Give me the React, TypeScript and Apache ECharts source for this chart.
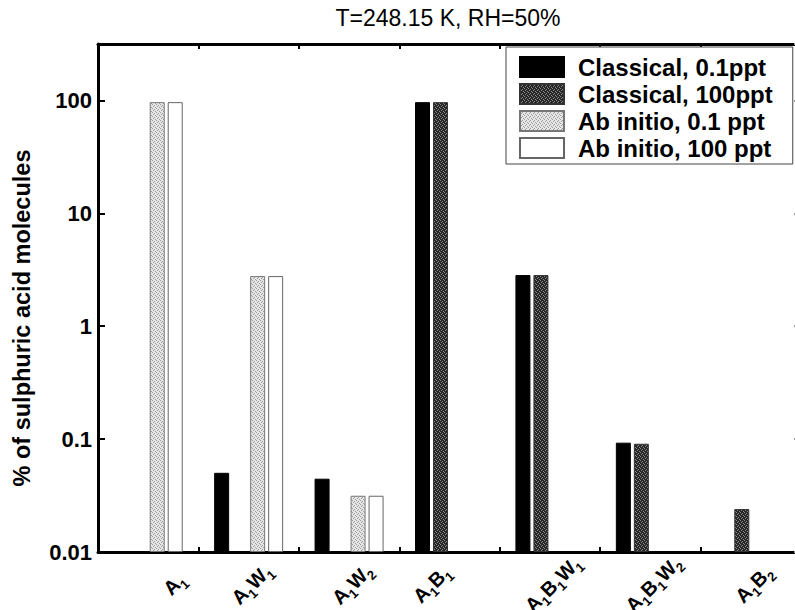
import React, { useEffect, useRef } from 'react';
import * as echarts from 'echarts';

// Cluster composition at T = 248.15 K, RH = 50 %
const categories = ['A1', 'A1W1', 'A1W2', 'A1B1', 'A1B1W1', 'A1B1W2', 'A1B2'];
const seriesNames = ['Classical, 0.1ppt', 'Classical, 100ppt', 'Ab initio, 0.1 ppt', 'Ab initio, 100 ppt'];

const classical01 = [null, 0.0503, 0.0446, 96.6, 2.84, 0.093, null];
const classical100 = [null, null, null, 96.6, 2.84, 0.091, 0.024];
const abInitio01 = [96.6, 2.78, 0.0315, null, null, null, null];
const abInitio100 = [96.6, 2.78, 0.0315, null, null, null, null];

const yMin = 0.01;
const yMax = 316.2;

const FONT = '"Liberation Sans", Arial, Helvetica, sans-serif';

// small repeating dot texture for the stippled bars
function stipple(base: string, dot: string, pts: number[][]) {
  const size = 4;
  const c = document.createElement('canvas');
  c.width = size;
  c.height = size;
  const g = c.getContext('2d')!;
  g.fillStyle = base;
  g.fillRect(0, 0, size, size);
  g.fillStyle = dot;
  pts.forEach(([x, y]) => g.fillRect(x, y, 1, 1));
  return { image: c, repeat: 'repeat', imageWidth: size, imageHeight: size } as any;
}

function logLabel(v: number) {
  const l = Math.log10(v);
  const e = Math.round(l);
  if (Math.abs(l - e) > 1e-6) return '';
  return String(Number(Math.pow(10, e).toPrecision(1)));
}

function subscripted(name: string) {
  return name.replace(/([A-Z])(\d)/g, '{a|$1}{s|$2}');
}

const labelRich = {
  a: { fontSize: 20, fontWeight: 'bold', fill: '#000', color: '#000', fontFamily: FONT, lineHeight: 28 },
  s: { fontSize: 13, fontWeight: 'bold', fill: '#000', color: '#000', fontFamily: FONT, lineHeight: 13, verticalAlign: 'bottom' },
};

export default function App() {
  const ref = useRef<HTMLDivElement>(null);

  useEffect(() => {
    if (!ref.current) return;
    const chart = echarts.init(ref.current, undefined, { renderer: 'svg' });

    const darkDots = stipple('#262626', '#8c8c8c', [[0, 0], [2, 1], [1, 2], [3, 3]]);
    const lightDots = stipple('#e6e6e6', '#9c9c9c', [[0, 0], [2, 1], [1, 2], [3, 3]]);

    const bar = (name: string, data: (number | null)[], color: any, borderColor: string) => ({
      name,
      type: 'bar',
      data,
      barWidth: 15,
      barGap: '20%',
      itemStyle: { color, borderColor, borderWidth: 1 },
    });

    chart.setOption({
      animation: false,
      backgroundColor: '#fff',
      textStyle: { fontFamily: FONT },
      title: {
        text: 'T=248.15 K, RH=50%',
        left: 448,
        top: 6,
        padding: 0,
        textAlign: 'center',
        textStyle: { fontSize: 23, fontWeight: 'normal', color: '#000', fontFamily: FONT },
      },
      grid: { left: 98, top: 44, width: 703, height: 508, outerBoundsMode: 'none', containLabel: false },
      legend: {
        orient: 'vertical',
        left: 506,
        top: 47,
        itemWidth: 44,
        itemHeight: 20,
        itemGap: 3,
        padding: [8, 20, 4, 13],
        backgroundColor: '#fff',
        borderColor: '#444',
        borderWidth: 1,
        icon: 'rect',
        align: 'left',
        data: seriesNames,
        textStyle: { fontSize: 24, fontWeight: 'bold', color: '#000', fontFamily: FONT, padding: [0, 0, 0, 9] },
        z: 10,
      },
      xAxis: [
        {
          type: 'category',
          data: categories,
          position: 'bottom',
          axisLine: { show: true, lineStyle: { color: '#000', width: 3 } },
          axisTick: { show: true, inside: true, length: 5, lineStyle: { color: '#000', width: 2 } },
          axisLabel: { show: false },
          splitLine: { show: false },
        },
        {
          type: 'category',
          data: categories,
          position: 'top',
          axisLine: { show: true, lineStyle: { color: '#000', width: 3 } },
          axisTick: { show: true, inside: true, length: 5, lineStyle: { color: '#000', width: 2 } },
          axisLabel: { show: false },
          splitLine: { show: false },
        },
      ],
      yAxis: [
        {
          type: 'log',
          logBase: 10,
          min: yMin,
          max: yMax,
          startValue: yMin,
          name: '% of sulphuric acid molecules',
          nameLocation: 'middle',
          nameGap: 64,
          nameTextStyle: { fontSize: 23.5, fontWeight: 'bold', color: '#000', fontFamily: FONT, padding: [0, 40, 0, 0] },
          axisLine: { show: true, lineStyle: { color: '#000', width: 3 } },
          axisTick: { show: true, inside: true, length: 7, lineStyle: { color: '#000', width: 2 } },
          axisLabel: {
            formatter: logLabel,
            fontSize: 22,
            fontWeight: 'bold',
            color: '#000',
            fontFamily: FONT,
            margin: 6,
            showMaxLabel: false,
          },
          splitLine: { show: false },
          minorTick: { show: false },
        },
        {
          type: 'log',
          logBase: 10,
          min: yMin,
          max: yMax,
          position: 'right',
          axisLine: { show: true, lineStyle: { color: '#000', width: 3 } },
          axisTick: { show: true, inside: true, length: 7, lineStyle: { color: '#999', width: 2 } },
          axisLabel: { show: false },
          splitLine: { show: false },
        },
      ],
      series: [
        bar(seriesNames[0], classical01, '#000', '#000'),
        bar(seriesNames[1], classical100, darkDots, '#333'),
        bar(seriesNames[2], abInitio01, lightDots, '#777'),
        bar(seriesNames[3], abInitio100, '#fff', '#666'),
      ],
    });

    // rotated category labels with subscripts, placed from the category axis scale
    const nudge: Record<string, number> = { A1: 23, A1B1: -21 };
    const axisY = chart.convertToPixel({ yAxisIndex: 0 }, yMin) as number;
    const labels = categories.map((c) => {
      const cx = chart.convertToPixel({ xAxisIndex: 0 }, c) as number;
      return {
        type: 'text',
        x: cx + 3 + (nudge[c] || 0),
        y: axisY + 32,
        rotation: Math.PI / 4,
        silent: true,
        z: 20,
        style: {
          text: subscripted(c),
          rich: labelRich,
          align: 'center',
          verticalAlign: 'middle',
          textAlign: 'center',
          textVerticalAlign: 'middle',
          fontFamily: FONT,
          fill: '#000',
        },
      };
    });
    chart.setOption({ graphic: labels });

    return () => chart.dispose();
  }, []);

  return (
    <div
      ref={ref}
      style={{ position: 'fixed', left: 0, top: 0, width: 795, height: 610, background: '#fff' }}
    />
  );
}
